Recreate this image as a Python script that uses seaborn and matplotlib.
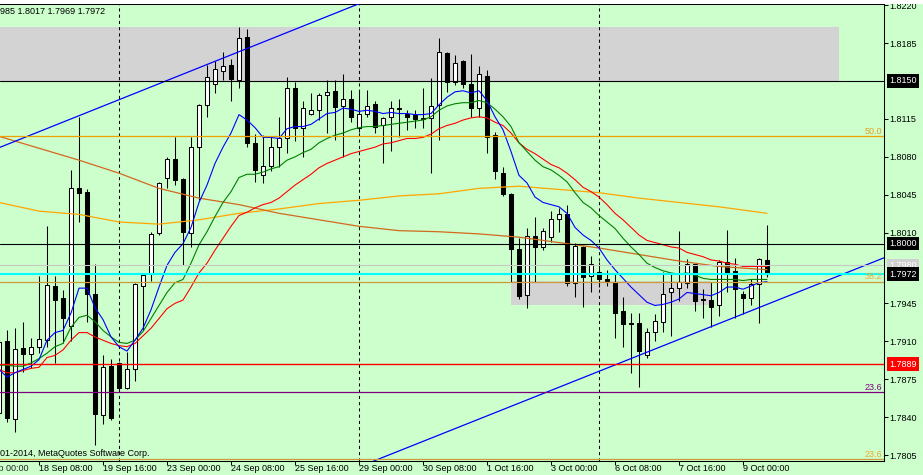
import numpy as np
import matplotlib
matplotlib.use('Agg')
import matplotlib.pyplot as plt
import matplotlib.transforms as mtransforms
from matplotlib.patches import Rectangle
import seaborn as sns

# H4 candles, bar 0 is the partly hidden one at the left edge
opens = [1.7844, 1.7910, 1.7838, 1.7904, 1.7898, 1.7905, 1.7911, 1.7961, 1.7950, 1.7924,
         1.8051, 1.8048, 1.7954, 1.7842, 1.7887, 1.7890, 1.7867, 1.7884, 1.7961, 1.7972,
         1.8010, 1.8061, 1.8078, 1.8060, 1.8010, 1.8089, 1.8128, 1.8147, 1.8159, 1.8165,
         1.8151, 1.8191, 1.8093, 1.8063, 1.8072, 1.8089, 1.8097, 1.8144, 1.8107, 1.8120,
         1.8123, 1.8137, 1.8141, 1.8127, 1.8133, 1.8107, 1.8120, 1.8129, 1.8109, 1.8117,
         1.8125, 1.8120, 1.8119, 1.8115, 1.8116, 1.8128, 1.8176, 1.8149, 1.8168, 1.8147,
         1.8125, 1.8155, 1.8100, 1.8065, 1.8046, 1.7995, 1.7953, 1.8007, 1.7997, 1.8006,
         1.8023, 1.8027, 1.7964, 1.7997, 1.7970, 1.7974, 1.7967, 1.7965, 1.7938, 1.7927,
         1.7927, 1.7897, 1.7919, 1.7928, 1.7955, 1.7959, 1.7964, 1.7981, 1.7949, 1.7948,
         1.7943, 1.7983, 1.7975, 1.7954, 1.7950, 1.7963, 1.7985]
highs = [1.7916, 1.7920, 1.7922, 1.7928, 1.7913, 1.7970, 1.8016, 1.7970, 1.7957, 1.8068,
         1.8117, 1.8050, 1.7981, 1.7897, 1.7894, 1.7891, 1.7900, 1.7964, 1.7973, 1.8011,
         1.8057, 1.8080, 1.8098, 1.8061, 1.8098, 1.8129, 1.8165, 1.8168, 1.8177, 1.8170,
         1.8200, 1.8198, 1.8101, 1.8100, 1.8098, 1.8117, 1.8154, 1.8149, 1.8132, 1.8139,
         1.8139, 1.8151, 1.8151, 1.8156, 1.8142, 1.8142, 1.8142, 1.8132, 1.8117, 1.8132,
         1.8133, 1.8123, 1.8123, 1.8144, 1.8153, 1.8190, 1.8177, 1.8174, 1.8169, 1.8175,
         1.8164, 1.8160, 1.8103, 1.8071, 1.8047, 1.8005, 1.8014, 1.8025, 1.8014, 1.8030,
         1.8033, 1.8036, 1.8001, 1.7998, 1.7989, 1.7983, 1.7976, 1.7972, 1.7951, 1.7936,
         1.7936, 1.7922, 1.7935, 1.7974, 1.7972, 1.8012, 1.7986, 1.7981, 1.7958, 1.7965,
         1.7985, 1.8013, 1.7987, 1.7956, 1.7967, 1.7987, 1.8017]
lows = [1.7837, 1.7836, 1.7826, 1.7882, 1.7885, 1.7899, 1.7905, 1.7890, 1.7908, 1.7910,
        1.8020, 1.7928, 1.7814, 1.7834, 1.7837, 1.7863, 1.7866, 1.7873, 1.7920, 1.7966,
        1.8008, 1.8051, 1.8054, 1.7980, 1.7997, 1.8040, 1.8117, 1.8139, 1.8151, 1.8132,
        1.8144, 1.8089, 1.8057, 1.8056, 1.8067, 1.8071, 1.8084, 1.8095, 1.8080, 1.8119,
        1.8114, 1.8102, 1.8096, 1.8080, 1.8112, 1.8103, 1.8117, 1.8102, 1.8074, 1.8085,
        1.8098, 1.8105, 1.8107, 1.8107, 1.8065, 1.8096, 1.8140, 1.8146, 1.8144, 1.8117,
        1.8117, 1.8084, 1.8060, 1.8044, 1.7965, 1.7949, 1.7941, 1.7965, 1.7994, 1.8002,
        1.8011, 1.7961, 1.7951, 1.7942, 1.7955, 1.7960, 1.7961, 1.7913, 1.7905, 1.7881,
        1.7868, 1.7895, 1.7910, 1.7919, 1.7915, 1.7947, 1.7959, 1.7938, 1.7931, 1.7923,
        1.7933, 1.7955, 1.7931, 1.7935, 1.7943, 1.7927, 1.7969]
closes = [1.7909, 1.7839, 1.7903, 1.7898, 1.7905, 1.7912, 1.7962, 1.7948, 1.7931, 1.8051,
          1.8047, 1.7954, 1.7843, 1.7886, 1.7839, 1.7867, 1.7884, 1.7963, 1.7971, 1.8009,
          1.8056, 1.8078, 1.8059, 1.8011, 1.8089, 1.8128, 1.8154, 1.8161, 1.8164, 1.8152,
          1.8190, 1.8093, 1.8068, 1.8072, 1.8089, 1.8097, 1.8144, 1.8107, 1.8125, 1.8123,
          1.8137, 1.8140, 1.8126, 1.8133, 1.8117, 1.8120, 1.8127, 1.8108, 1.8116, 1.8125,
          1.8124, 1.8117, 1.8115, 1.8116, 1.8127, 1.8177, 1.8149, 1.8167, 1.8147, 1.8125,
          1.8156, 1.8098, 1.8067, 1.8046, 1.7995, 1.7952, 1.8007, 1.7997, 1.8012, 1.8023,
          1.8027, 1.7964, 1.7998, 1.7969, 1.7981, 1.7967, 1.7966, 1.7936, 1.7926, 1.7926,
          1.7901, 1.7919, 1.7929, 1.7954, 1.7959, 1.7965, 1.7981, 1.7947, 1.7948, 1.7942,
          1.7983, 1.7973, 1.7958, 1.7950, 1.7963, 1.7986, 1.7972]

# moving averages
ma_blue = [1.7884, 1.7877, 1.7881, 1.7884, 1.7887, 1.7893, 1.7911, 1.7918, 1.7920, 1.7936,
           1.7959, 1.7959, 1.7941, 1.7930, 1.7914, 1.7905, 1.7901, 1.7911, 1.7922, 1.7939,
           1.7960, 1.7980, 1.7992, 1.8000, 1.8015, 1.8038, 1.8054, 1.8074, 1.8089, 1.8102,
           1.8119, 1.8114, 1.8107, 1.8098, 1.8098, 1.8097, 1.8106, 1.8108, 1.8108, 1.8110,
           1.8115, 1.8120, 1.8121, 1.8125, 1.8124, 1.8122, 1.8123, 1.8122, 1.8120, 1.8121,
           1.8120, 1.8120, 1.8119, 1.8119, 1.8120, 1.8128, 1.8135, 1.8140, 1.8141, 1.8139,
           1.8141, 1.8132, 1.8117, 1.8105, 1.8085, 1.8063, 1.8056, 1.8043, 1.8038, 1.8036,
           1.8034, 1.8028, 1.8015, 1.8008, 1.8003, 1.7996, 1.7985, 1.7976, 1.7968, 1.7960,
           1.7953, 1.7946, 1.7943, 1.7944, 1.7946, 1.7949, 1.7955, 1.7954, 1.7953, 1.7952,
           1.7955, 1.7960, 1.7960, 1.7958, 1.7961, 1.7964, 1.7965]
ma_green = [1.7888, 1.7888, 1.7887, 1.7887, 1.7890, 1.7894, 1.7899, 1.7905, 1.7908, 1.7923,
            1.7932, 1.7934, 1.7928, 1.7920, 1.7914, 1.7909, 1.7908, 1.7911, 1.7919, 1.7931,
            1.7943, 1.7955, 1.7964, 1.7967, 1.7982, 1.7999, 1.8011, 1.8025, 1.8038, 1.8048,
            1.8061, 1.8064, 1.8064, 1.8066, 1.8069, 1.8071, 1.8077, 1.8080, 1.8084, 1.8087,
            1.8093, 1.8097, 1.8100, 1.8102, 1.8105, 1.8107, 1.8108, 1.8108, 1.8109, 1.8110,
            1.8111, 1.8112, 1.8113, 1.8114, 1.8117, 1.8123, 1.8127, 1.8129, 1.8130, 1.8130,
            1.8132, 1.8130, 1.8124, 1.8117, 1.8108, 1.8093, 1.8085, 1.8077, 1.8071, 1.8068,
            1.8063, 1.8057, 1.8047, 1.8038, 1.8033, 1.8026, 1.8020, 1.8014, 1.8005, 1.7997,
            1.7990, 1.7982, 1.7978, 1.7975, 1.7973, 1.7972, 1.7973, 1.7971, 1.7968, 1.7967,
            1.7967, 1.7967, 1.7967, 1.7966, 1.7967, 1.7967, 1.7967]
ma_red = [1.7884, 1.7881, 1.7881, 1.7883, 1.7885, 1.7886, 1.7895, 1.7897, 1.7902, 1.7911,
          1.7918, 1.7918, 1.7914, 1.7911, 1.7908, 1.7906, 1.7905, 1.7908, 1.7915, 1.7922,
          1.7931, 1.7940, 1.7945, 1.7948, 1.7960, 1.7973, 1.7982, 1.7994, 1.8005, 1.8016,
          1.8026, 1.8029, 1.8033, 1.8036, 1.8038, 1.8042, 1.8048, 1.8054, 1.8059, 1.8064,
          1.8070, 1.8074, 1.8077, 1.8080, 1.8083, 1.8085, 1.8087, 1.8089, 1.8092, 1.8093,
          1.8095, 1.8097, 1.8097, 1.8098, 1.8101, 1.8106, 1.8109, 1.8111, 1.8114, 1.8116,
          1.8117, 1.8116, 1.8112, 1.8109, 1.8102, 1.8093, 1.8087, 1.8083, 1.8078, 1.8073,
          1.8070, 1.8065, 1.8059, 1.8052, 1.8048, 1.8043, 1.8036, 1.8028, 1.8022, 1.8015,
          1.8008, 1.8003, 1.8001, 1.7999, 1.7997, 1.7996, 1.7992, 1.7990, 1.7988, 1.7985,
          1.7984, 1.7982, 1.7981, 1.7979, 1.7979, 1.7979, 1.7979]
slow_bars = [0, 5, 10, 15, 20, 25, 30, 35, 40, 45, 50, 55, 60, 65, 70, 75, 80, 85, 90, 96]
ma_sienna = [1.8099, 1.8088, 1.8077, 1.8065, 1.8051, 1.8042, 1.8036, 1.8028, 1.8022, 1.8016,
             1.8012, 1.8011, 1.8009, 1.8006, 1.8001, 1.7996, 1.7990, 1.7984, 1.7979, 1.7976]
ma_orange = [1.8038, 1.8030, 1.8027, 1.8020, 1.8018, 1.8022, 1.8028, 1.8032, 1.8037, 1.8040,
             1.8044, 1.8046, 1.8051, 1.8053, 1.8050, 1.8047, 1.8042, 1.8038, 1.8034, 1.8028]
slow_bars_orange = [0, 5, 10, 15, 20, 25, 30, 35, 40, 45, 50, 55, 60, 65, 70, 75, 80, 85, 90, 96]

# axis labels
ytick_vals = [1.8220, 1.8185, 1.8115, 1.8080, 1.8045, 1.8010, 1.7945, 1.7910, 1.7875, 1.7840, 1.7805]
xtick_pos = [5, 13, 21, 29, 37, 45, 53, 61, 69, 77, 85, 93]
xtick_labels = ['18 Sep 08:00', '19 Sep 16:00', '23 Sep 00:00', '24 Sep 08:00', '25 Sep 16:00',
                '29 Sep 00:00', '30 Sep 08:00', '1 Oct 16:00', '3 Oct 00:00', '6 Oct 08:00',
                '7 Oct 16:00', '9 Oct 00:00']
week_starts = [15, 45, 75]

# objects on the chart
zones = [(-10, 105, 1.8150, 1.8200), (64, 89, 1.7943, 1.7966)]
trend_upper = [(10, 1.8118), (30, 1.8177)]
trend_lower = [(80, 1.7897), (96, 1.7944)]
fibo_levels = [(1.8099, '50.0', '#F0A000', '#E8A020'),
               (1.7965, '38.2', '#CC9A3A', '#F0A830'),
               (1.7801, '23.6', '#CC9A3A', '#F0A830'),
               (1.7863, '23.6', '#800080', '#800080')]
price_lines = [(1.8150, 'black', 0.8), (1.8000, 'black', 0.8), (1.7980, '#C8C8C8', 0.8),
               (1.7972, '#00FFFF', 1.5), (1.7889, '#FF0000', 1.0)]
price_tags = [(1.8150, 'black', 'white'), (1.8000, 'black', 'white'), (1.7980, '#D0D0D0', 'white'),
              (1.7972, 'black', 'white'), (1.7889, '#FF0000', 'white')]

sns.set_style('white')
plt.rcParams['font.family'] = ['Liberation Sans', 'DejaVu Sans']
plt.rcParams['font.size'] = 6.5

BG = '#CCFFCC'
W, H = 923, 475
fig = plt.figure(figsize=(W / 100, H / 100), dpi=100, facecolor=BG)
ax = fig.add_axes([0, 14 / H, 884 / W, 457 / H])
ax.set_facecolor(BG)
fig.patches.append(Rectangle((0, 1 - 4 / H), 1, 4 / H, transform=fig.transFigure,
                             facecolor='white', edgecolor='none'))

bars = np.arange(len(opens))
o = np.array(opens)
c = np.array(closes)

for x0, x1, y0, y1 in zones:
    ax.add_patch(Rectangle((x0, y0), x1 - x0, y1 - y0, facecolor='#D3D3D3', edgecolor='none', zorder=0.5))

for wk in week_starts:
    ax.axvline(wk, color='black', lw=0.75, ls=(0, (3, 3)), zorder=1)

# candles
ax.vlines(bars, lows, highs, color='black', lw=0.75, zorder=3)
ax.bar(bars, np.abs(c - o), bottom=np.minimum(o, c), width=0.62,
       color=np.where(c >= o, 'white', 'black'), edgecolor='black', linewidth=0.75, zorder=4)

# moving averages
sns.lineplot(x=slow_bars_orange, y=ma_orange, ax=ax, color='#FFA500', linewidth=0.9, zorder=5)
sns.lineplot(x=slow_bars, y=ma_sienna, ax=ax, color='#D2691E', linewidth=0.9, zorder=5)
sns.lineplot(x=bars, y=ma_red, ax=ax, color='#FF0000', linewidth=0.8, zorder=5)
sns.lineplot(x=bars, y=ma_green, ax=ax, color='#008000', linewidth=0.8, zorder=5)
sns.lineplot(x=bars, y=ma_blue, ax=ax, color='#0000FF', linewidth=0.8, zorder=5)

ax.axline(trend_upper[0], trend_upper[1], color='#0000FF', lw=0.9, zorder=6)
ax.axline(trend_lower[0], trend_lower[1], color='#0000FF', lw=0.9, zorder=6)

trans = mtransforms.blended_transform_factory(ax.transAxes, ax.transData)
for lvl, txt, lc, tc in fibo_levels:
    ax.axhline(lvl, color=lc, lw=0.9, zorder=6)
    ax.text(882 / 884, lvl + 0.00005, txt, transform=trans, ha='right', va='bottom', color=tc, zorder=7)

for lvl, col, lw in price_lines:
    ax.axhline(lvl, color=col, lw=lw, zorder=6)

for lvl, fc, tc in price_tags:
    ax.text(1 + 5 / 884, lvl, f'{lvl:.4f}', transform=trans, ha='left', va='center', color=tc,
            bbox=dict(boxstyle='square,pad=0.25', fc=fc, ec='none'), clip_on=False, zorder=10)

ax.set_xlim(0.125, 110.625)
ax.set_ylim(1.77996, 1.82210)
ax.set_xlabel('')
ax.set_ylabel('')

ax.yaxis.tick_right()
ax.set_yticks(ytick_vals)
ax.set_yticklabels([f'{v:.4f}' for v in ytick_vals])
ax.tick_params(axis='y', which='both', left=False, right=True, direction='out', length=3,
               width=0.75, pad=1, colors='black', labelsize=6.5)
ax.set_xticks(xtick_pos)
ax.set_xticklabels(xtick_labels, ha='left')
ax.tick_params(axis='x', which='both', bottom=True, direction='out', length=3, width=0.75,
               pad=-0.8, colors='black', labelsize=6.5)
ax.annotate('17 Sep 00:00', xy=(-3, 0), xycoords=('data', 'axes fraction'),
            xytext=(0, -2.2), textcoords='offset points', ha='left', va='top', annotation_clip=False)

for side in ['top', 'right', 'bottom']:
    ax.spines[side].set_color('black')
    ax.spines[side].set_linewidth(0.75)
ax.spines['left'].set_visible(False)
ax.grid(False)

fig.text(0, 1 - 12 / H, '985 1.8017 1.7969 1.7972', ha='left', va='center', color='black')
fig.text(0, (H - 453) / H, '01-2014, MetaQuotes Software Corp.', ha='left', va='center', color='black')

fig.savefig('out.png', dpi=100, facecolor=BG)
